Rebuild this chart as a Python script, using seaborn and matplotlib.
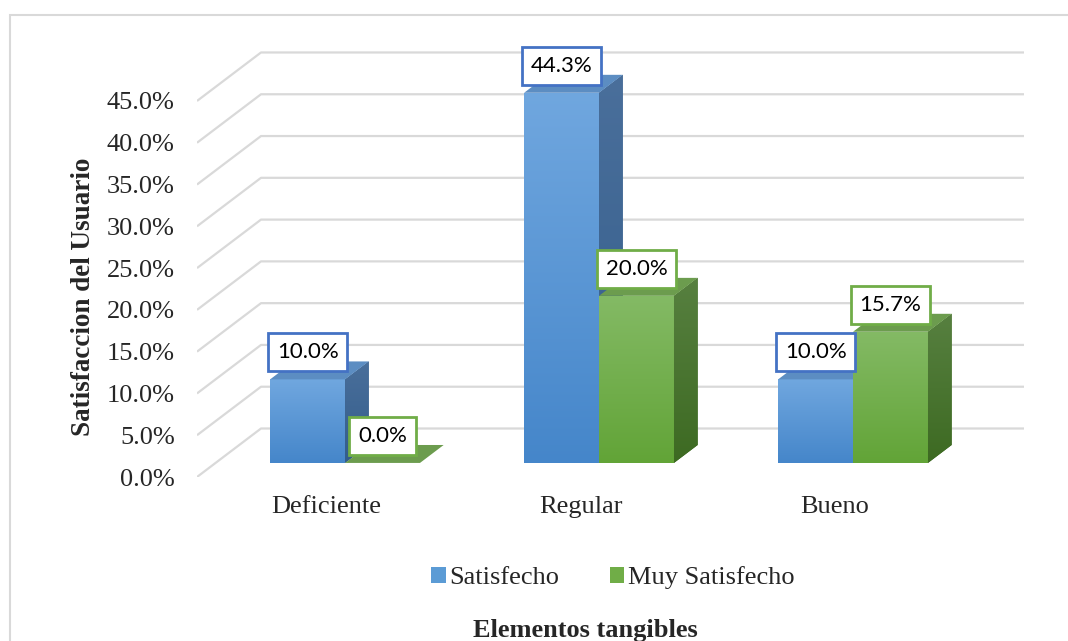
import numpy as np
import pandas as pd
import matplotlib
matplotlib.use("Agg")
import matplotlib.pyplot as plt
import matplotlib.transforms as mtransforms
from matplotlib.patches import Polygon, Rectangle, Patch
from matplotlib.colors import LinearSegmentedColormap
import seaborn as sns

# ---- data ----
categorias = ["Deficiente", "Regular", "Bueno"]
series = ["Satisfecho", "Muy Satisfecho"]
satisfecho = [10.0, 44.3, 10.0]
muy_satisfecho = [0.0, 20.0, 15.7]
y_ticks = [0, 5, 10, 15, 20, 25, 30, 35, 40, 45]

df = pd.DataFrame({
    "Elementos": categorias * 2,
    "Serie": [series[0]] * len(categorias) + [series[1]] * len(categorias),
    "Valor": satisfecho + muy_satisfecho,
})

# ---- style ----
palette = {"Satisfecho": "#5B9BD5", "Muy Satisfecho": "#70AD47"}
front_grad = {"Satisfecho": ("#70A7DF", "#4586CA"), "Muy Satisfecho": ("#84BA65", "#62A437")}
side_grad = {"Satisfecho": ("#4A6F9B", "#335D8B"), "Muy Satisfecho": ("#578040", "#3D6A22")}
top_col = {"Satisfecho": "#5C8DC2", "Muy Satisfecho": "#6C9C4E"}
box_edge = {"Satisfecho": "#4472C4", "Muy Satisfecho": "#70AD47"}

sns.set_theme(style="white")
plt.rcParams["font.family"] = ["Liberation Serif", "DejaVu Serif"]

W, H = 1068, 641
fig = plt.figure(figsize=(W / 100, H / 100), dpi=100)
fig.patch.set_facecolor("white")

# pixel geometry of the plotting box
X0, XS = 326.5, 254.0      # px of first category centre, px per category
Y0, YS = 477.0, 8.356      # px of 0 %, px per percentage point
left_px, right_px, top_px = 197.0, 1024.0, 40.0
xlim = ((left_px - X0) / XS, (right_px - X0) / XS)
ylim = (0.0, (Y0 - top_px) / YS)
ax = fig.add_axes([left_px / W, 1 - Y0 / H, (right_px - left_px) / W, (Y0 - top_px) / H])

# oblique depth vector (data units) and bar placement in depth
DX, DY = 64.0 / XS, 48.5 / YS
F, G = 0.29, 0.37
sx, sy = F * DX, F * DY

sns.barplot(data=df, x="Elementos", y="Valor", hue="Serie", order=categorias,
            hue_order=series, palette=palette, width=0.59, dodge=True,
            legend=False, ax=ax, errorbar=None, linewidth=0)

# back wall / side wall gridlines
for v in y_ticks:
    ax.plot([xlim[0], xlim[0] + DX, xlim[1]], [v, v + DY, v + DY],
            color="#D9D9D9", lw=1.6, zorder=1, solid_capstyle="butt")


def gradient_fill(clip_artist, x0, x1, y0, y1, c_top, c_bot, z):
    cmap = LinearSegmentedColormap.from_list("g", [c_bot, c_top])
    grad = np.linspace(0, 1, 256).reshape(-1, 1)
    im = ax.imshow(grad, extent=(x0, x1, y0, y1), origin="lower", aspect="auto",
                   cmap=cmap, zorder=z, interpolation="bilinear")
    im.set_clip_path(clip_artist)


shift = mtransforms.Affine2D().translate(sx, sy) + ax.transData

bars = []
for serie, cont in zip(series, ax.containers):
    for rect in cont.patches:
        bars.append((rect.get_x(), serie, rect))
bars.sort(key=lambda b: b[0])

for i, (_, serie, rect) in enumerate(bars):
    z = 3 + i * 0.1
    x, w, h = rect.get_x(), rect.get_width(), rect.get_height()
    rect.set_transform(shift)
    rect.set_zorder(z)
    if h > 0:
        gradient_fill(rect, x + sx, x + w + sx, sy, h + sy, *front_grad[serie], z + 0.01)
        side = Polygon([(x + w + sx, sy), (x + w + sx, h + sy),
                        (x + w + sx + G * DX, h + sy + G * DY),
                        (x + w + sx + G * DX, sy + G * DY)],
                       closed=True, fc=side_grad[serie][1], ec="none", zorder=z + 0.02)
        ax.add_patch(side)
        gradient_fill(side, x + w + sx, x + w + sx + G * DX, sy, h + sy + G * DY,
                      *side_grad[serie], z + 0.03)
    top = Polygon([(x + sx, h + sy), (x + w + sx, h + sy),
                   (x + w + sx + G * DX, h + sy + G * DY),
                   (x + sx + G * DX, h + sy + G * DY)],
                  closed=True, fc=top_col[serie], ec="none", zorder=z + 0.04)
    ax.add_patch(top)
    ax.annotate(f"{h:.1f}%", xy=(x + w / 2 + sx, h + sy), xytext=(0, 19.5),
                textcoords="offset points", ha="center", va="center",
                fontsize=16, family=["Lato", "DejaVu Sans"], color="black",
                bbox=dict(boxstyle="square,pad=0.4", fc="white",
                          ec=box_edge[serie], lw=2.0),
                zorder=20)

ax.set_xlim(*xlim)
ax.set_ylim(*ylim)
for s in ax.spines.values():
    s.set_visible(False)
ax.set_yticks(y_ticks)
ax.set_yticklabels([f"{v:.1f}%" for v in y_ticks], fontsize=19)
ax.set_xticks(range(len(categorias)))
ax.set_xticklabels(categorias, fontsize=19)
ax.tick_params(axis="y", length=0, pad=16)
ax.tick_params(axis="x", length=0, pad=14)
ax.set_xlabel("")
ax.set_ylabel("")
ax.set_facecolor("none")

fig.text(84 / W, 1 - 297 / H, "Satisfaccion del Usuario", rotation=90,
         ha="center", va="center", fontsize=19.5, fontweight="bold")
fig.text(585 / W, 1 - 631 / H, "Elementos tangibles", ha="center", va="center",
         fontsize=19, fontweight="bold")

handles = [Patch(facecolor=palette[s], edgecolor="none") for s in series]
fig.legend(handles, series, loc="center", bbox_to_anchor=(613 / W, 1 - 578 / H),
           ncol=2, frameon=False, fontsize=19, handlelength=0.55, handleheight=0.55,
           handletextpad=0.15, columnspacing=1.9)

# chart frame
fig.add_artist(Rectangle((10 / W, -0.1), 1.2, 1 - 15 / H + 0.1, transform=fig.transFigure,
                         fill=False, ec="#D9D9D9", lw=1.5))

fig.savefig("out.png", dpi=100, facecolor="white")
